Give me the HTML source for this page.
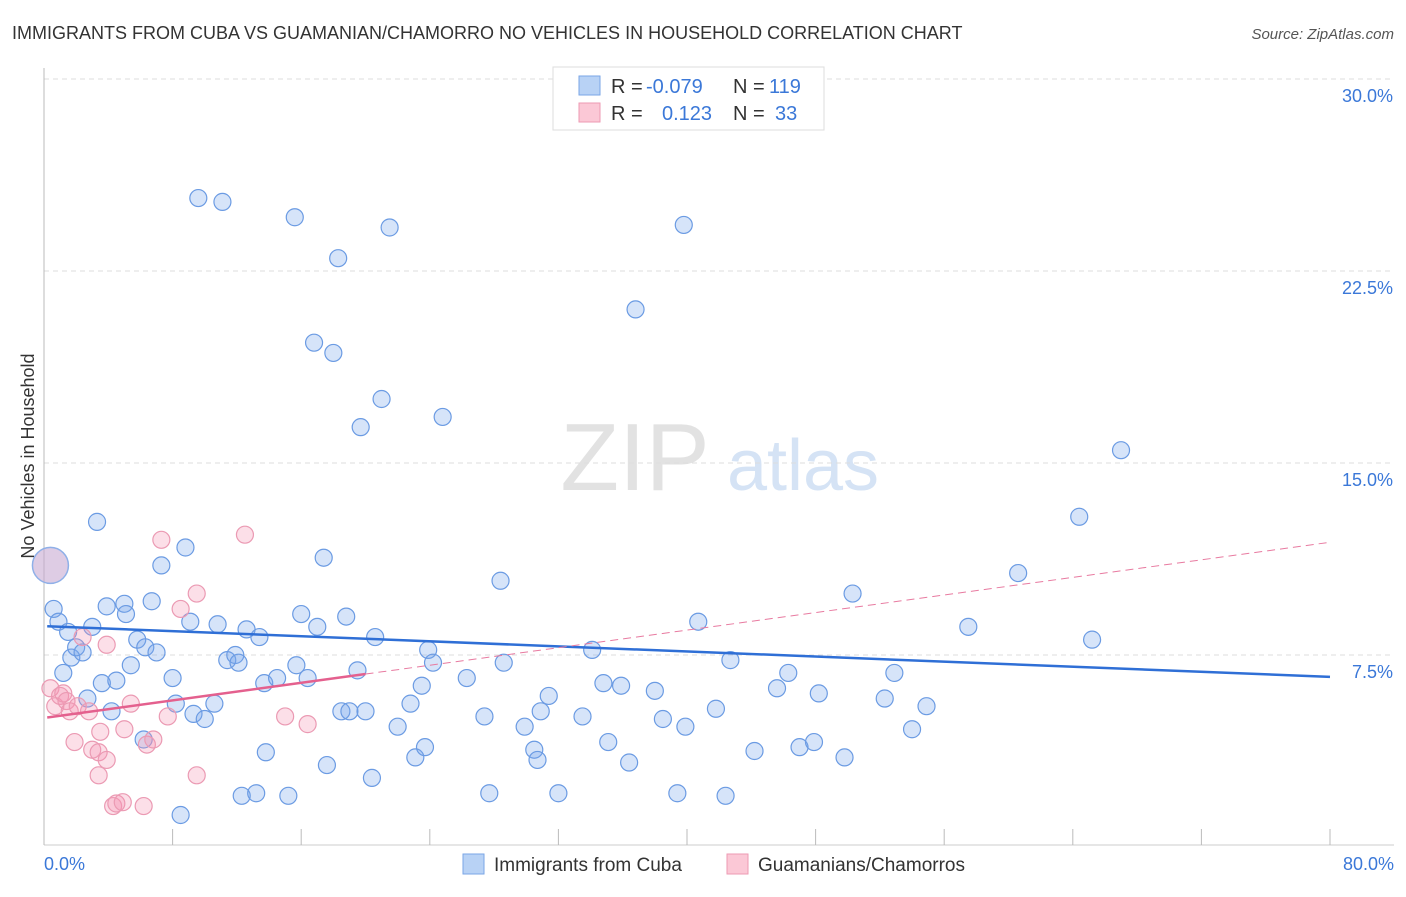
<!DOCTYPE html>
<html><head><meta charset="utf-8"><style>
body{margin:0;background:#fff;font-family:"Liberation Sans",sans-serif;}
svg text{font-family:"Liberation Sans",sans-serif;}
</style></head><body>
<svg id="chart" width="1406" height="892" xmlns="http://www.w3.org/2000/svg">
<text x="12" y="39" font-size="18" fill="#333">IMMIGRANTS FROM CUBA VS GUAMANIAN/CHAMORRO NO VEHICLES IN HOUSEHOLD CORRELATION CHART</text>
<text x="1394" y="39" font-size="15" fill="#555" font-style="italic" text-anchor="end">Source: ZipAtlas.com</text>
<g>
<text x="635" y="490" font-size="96" fill="#e2e2e2" font-family="Liberation Serif" text-anchor="middle">ZIP</text>
<text x="803" y="490" font-size="72" fill="#d5e3f5" text-anchor="middle">atlas</text>
</g>
<g id="grid"></g>
<g id="axes"></g>
<g id="marks"></g>
<g id="trends"></g>
<text x="34" y="456" font-size="18" fill="#333" text-anchor="middle" transform="rotate(-90 34 456)">No Vehicles in Household</text>
<g>
<rect x="553" y="67" width="271" height="63" fill="#fff" stroke="#ddd"/>
<rect x="579" y="76" width="21" height="19" fill="#b8d2f5" stroke="#7aa6e6"/>
<rect x="579" y="103" width="21" height="19" fill="#fbc8d6" stroke="#ee9ab3"/>
<text x="611" y="93" font-size="20" fill="#333">R =</text><text x="646" y="93" font-size="20" fill="#3b78d8">-0.079</text>
<text x="733" y="93" font-size="20" fill="#333">N =</text><text x="769" y="93" font-size="20" fill="#3b78d8">119</text>
<text x="611" y="120" font-size="20" fill="#333">R =</text><text x="662" y="120" font-size="20" fill="#3b78d8">0.123</text>
<text x="733" y="120" font-size="20" fill="#333">N =</text><text x="775" y="120" font-size="20" fill="#3b78d8">33</text>
</g>
<g>
<rect x="463" y="854" width="21" height="20" fill="#b8d2f5" stroke="#7aa6e6"/>
<text x="494" y="871" font-size="19" fill="#333">Immigrants from Cuba</text>
<rect x="727" y="854" width="21" height="20" fill="#fbc8d6" stroke="#ee9ab3"/>
<text x="758" y="871" font-size="19" fill="#333">Guamanians/Chamorros</text>
</g>
</svg>
<script>
const xTicks=[0,10,20,30,40,50,60,70,80];
const yTicks=[7.5,15,22.5,30];
const yTickLabels=["7.5%","15.0%","22.5%","30.0%"];
const xEndLabels=["0.0%","80.0%"];
const cubaX=[0.6,0.9,1.5,1.2,1.7,2.0,2.4,3.0,3.3,2.7,3.6,3.9,4.2,4.5,5.0,5.1,5.4,5.8,6.2,6.3,6.7,7.0,7.3,8.0,8.2,8.5,8.8,9.1,9.3,9.6,10.0,10.6,10.8,11.1,11.4,11.9,12.1,12.3,12.6,13.2,13.4,13.8,13.7,14.5,15.2,15.6,15.7,16.0,16.4,16.8,17.0,17.4,17.6,18.0,18.3,18.5,18.8,19.0,19.5,19.7,20.0,20.4,20.6,21.0,21.5,22.0,22.8,23.1,23.5,23.7,23.9,24.2,24.8,26.3,27.4,27.7,28.4,28.6,29.9,30.5,30.7,30.9,31.4,32.0,33.5,34.1,34.8,35.1,35.9,36.4,36.8,38.0,38.5,39.4,39.8,39.9,40.7,41.8,42.4,42.7,44.2,45.6,46.3,47.0,47.9,48.2,49.8,50.3,52.3,52.9,54.0,54.9,57.5,60.6,64.4,65.2,67.0];
const cubaY=[9.3,8.8,8.4,6.8,7.4,7.8,7.6,8.6,12.7,5.8,6.4,9.4,5.3,6.5,9.5,9.1,7.1,8.1,4.2,7.8,9.6,7.6,11.0,6.6,5.6,1.25,11.7,8.8,5.2,25.35,5.0,5.6,8.7,25.2,7.3,7.5,7.2,2.0,8.5,2.1,8.2,3.7,6.4,6.6,2.0,24.6,7.1,9.1,6.6,19.7,8.6,11.3,3.2,19.3,23.0,5.3,9.0,5.3,6.9,16.4,5.3,2.7,8.2,17.5,24.2,4.7,5.6,3.5,6.3,3.9,7.7,7.2,16.8,6.6,5.1,2.1,10.4,7.2,4.7,3.8,3.4,5.3,5.9,2.1,5.1,7.7,6.4,4.1,6.3,3.3,21.0,6.1,5.0,2.1,24.3,4.7,8.8,5.4,2.0,7.3,3.75,6.2,6.8,3.9,4.1,6.0,3.5,9.9,5.8,6.8,4.6,5.5,8.6,10.7,12.9,8.1,15.5];
const guamX=[0.4,0.7,1.0,1.2,1.4,1.6,1.9,2.1,2.4,2.8,3.0,3.4,3.4,3.5,3.9,3.9,4.3,4.5,4.9,5.0,5.4,6.2,6.4,6.8,7.3,7.7,8.5,9.5,9.5,12.5,15.0,16.4];
const guamY=[6.2,5.5,5.9,6.0,5.7,5.3,4.1,5.5,8.2,5.3,3.8,2.8,3.7,4.5,7.9,3.4,1.6,1.7,1.75,4.6,5.6,1.6,4.0,4.2,12.0,5.1,9.3,9.9,2.8,12.2,5.1,4.8];
const bigPoint=[0.4,11.0];
const cubaTrend=[8.63,-0.0248];
const guamTrend=[5.04,0.0858];
const guamSolidEnd=20;

const NS="http://www.w3.org/2000/svg";
const X0=44,X1=1330,Y0=847,PXY=25.6;
const sx=v=>X0+v*(X1-X0)/80, sy=v=>Y0-v*PXY;
function mk(tag,attrs,parent){const e=document.createElementNS(NS,tag);for(const k in attrs)e.setAttribute(k,attrs[k]);parent.appendChild(e);return e;}
const grid=document.getElementById('grid'),axes=document.getElementById('axes'),marks=document.getElementById('marks'),trends=document.getElementById('trends');
yTicks.forEach((t,i)=>{
 const l=mk('line',{x1:X0,x2:1394,y1:sy(t),y2:sy(t),stroke:'#ddd','stroke-dasharray':'5,4'},grid);
 
 
 const tx=mk('text',{x:1393,y:sy(t)+23,'font-size':18,fill:'#3b78d8','text-anchor':'end'},axes);
 tx.textContent=yTickLabels[i];
 
 
});
const la=mk('line',{x1:X0,x2:X0,y1:68,y2:845,stroke:'#bbb'},axes);


const lb=mk('line',{x1:X0,x2:1394,y1:845,y2:845,stroke:'#ccc'},axes);


for(let v=0;v<=80;v+=8){
 const t=mk('line',{x1:sx(v),x2:sx(v),y1:829,y2:845,stroke:'#bbb'},axes);
 
 
}
[[0,'start',44],[80,'end',1394]].forEach((a,i)=>{
 const t=mk('text',{x:a[2],y:870,'font-size':18,fill:'#3b78d8','text-anchor':a[1]},axes);
 t.textContent=xEndLabels[i];
 
 
});
cubaX.forEach((x,i)=>{
 const c=mk('circle',{cx:sx(x),cy:sy(cubaY[i]),r:8.5,fill:'rgba(120,165,235,0.3)',stroke:'#6b9be3','stroke-width':1.2},marks);
 
 
});
guamX.forEach((x,i)=>{
 const c=mk('circle',{cx:sx(x),cy:sy(guamY[i]),r:8.5,fill:'rgba(245,150,180,0.3)',stroke:'#eb9ab3','stroke-width':1.2},marks);
 
 
});
const b1=mk('circle',{cx:sx(bigPoint[0]),cy:sy(bigPoint[1]),r:18,fill:'rgba(200,170,210,0.6)',stroke:'#8fb0e8','stroke-width':1.5},marks);


const bl=mk('line',{x1:sx(0.2),y1:sy(cubaTrend[0]+cubaTrend[1]*0.2),x2:sx(80),y2:sy(cubaTrend[0]+cubaTrend[1]*80),stroke:'#2f6fd6','stroke-width':2.5},trends);


const pd=mk('line',{x1:sx(guamSolidEnd),y1:sy(guamTrend[0]+guamTrend[1]*guamSolidEnd),x2:sx(80),y2:sy(guamTrend[0]+guamTrend[1]*80),stroke:'#e87aa0','stroke-width':1,'stroke-dasharray':'8,5'},trends);


const ps=mk('line',{x1:sx(0.2),y1:sy(guamTrend[0]+guamTrend[1]*0.2),x2:sx(guamSolidEnd),y2:sy(guamTrend[0]+guamTrend[1]*guamSolidEnd),stroke:'#e4608e','stroke-width':2.5},trends);


</script>
</body></html>
